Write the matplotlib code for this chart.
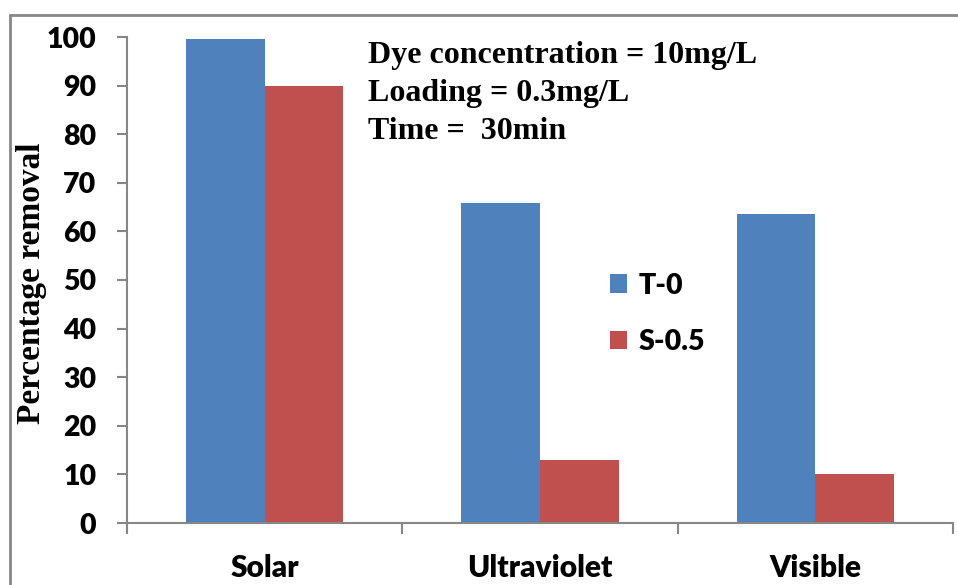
import numpy as np
import matplotlib
matplotlib.use("Agg")
import matplotlib.pyplot as plt
from matplotlib.patches import Rectangle

# Dados
fontes_luz = ["Solar", "Ultraviolet", "Visible"]
remocao_t0 = [99.6, 65.8, 63.6]
remocao_s05 = [90.0, 13.0, 10.0]
series = ["T-0", "S-0.5"]
yticks = [0, 10, 20, 30, 40, 50, 60, 70, 80, 90, 100]
anotacao = ["Dye concentration = 10mg/L", "Loading = 0.3mg/L", "Time =  30min"]

AZUL = "#4F81BD"
VERMELHO = "#C0504D"
CINZA = "#868686"
FONTE_EIXO = "Lato"
FONTE_TEXTO = "Liberation Serif"
PESO = "heavy"

fig = plt.figure(figsize=(9.58, 5.85), dpi=100)
ax = fig.add_axes([127 / 958, 1 - 523 / 585, 826 / 958, 486 / 585])

# Borda externa
fig.patches.append(Rectangle((10 / 958, -0.05), 1.0, 1 - 15 / 585 + 0.05,
                             transform=fig.transFigure, fill=False,
                             edgecolor=CINZA, linewidth=2))

x = np.arange(len(fontes_luz))
largura = 1 / 3.5
ax.bar(x - largura / 2, remocao_t0, largura, color=AZUL, label=series[0])
ax.bar(x + largura / 2, remocao_s05, largura, color=VERMELHO, label=series[1])

ax.set_xlim(-0.5, len(fontes_luz) - 0.5)
ax.set_ylim(0, 100)

for lado in ["top", "right"]:
    ax.spines[lado].set_visible(False)
for lado in ["left", "bottom"]:
    ax.spines[lado].set_color(CINZA)
    ax.spines[lado].set_linewidth(1.5)

ax.set_yticks(yticks)
ax.set_yticklabels([str(v) for v in yticks], fontsize=20.5, fontweight=PESO,
                   family=FONTE_EIXO)
ax.tick_params(axis="y", length=7, width=1.5, color=CINZA, pad=15)

ax.set_xticks(x)
ax.set_xticklabels(fontes_luz, fontsize=21.5, fontweight=PESO, family=FONTE_EIXO)
ax.set_xticks(np.arange(-0.5, len(fontes_luz)), minor=True)
ax.tick_params(axis="x", which="major", length=0, pad=22)
ax.tick_params(axis="x", which="minor", length=8, width=1.5, color=CINZA)

# Rótulo do eixo y
fig.text(32 / 958, 1 - 283 / 585, "Percentage removal", rotation=90,
         fontsize=24, fontweight="bold", family=FONTE_TEXTO,
         ha="center", va="center")

ax.text(368 / 958, 1 - 41 / 585, "\n".join(anotacao), transform=fig.transFigure,
        fontsize=23, fontweight="bold", family=FONTE_TEXTO, va="top",
        ha="left", linespacing=1.42)

ax.legend(loc="upper left", bbox_to_anchor=(584 / 958, 1 - 247 / 585),
          bbox_transform=fig.transFigure, frameon=False, handlelength=0.62,
          handleheight=0.62, handletextpad=0.4, labelspacing=1.06,
          prop={"family": FONTE_EIXO, "weight": PESO, "size": 20.5})

fig.savefig("out.png", dpi=100)
plt.close(fig)
